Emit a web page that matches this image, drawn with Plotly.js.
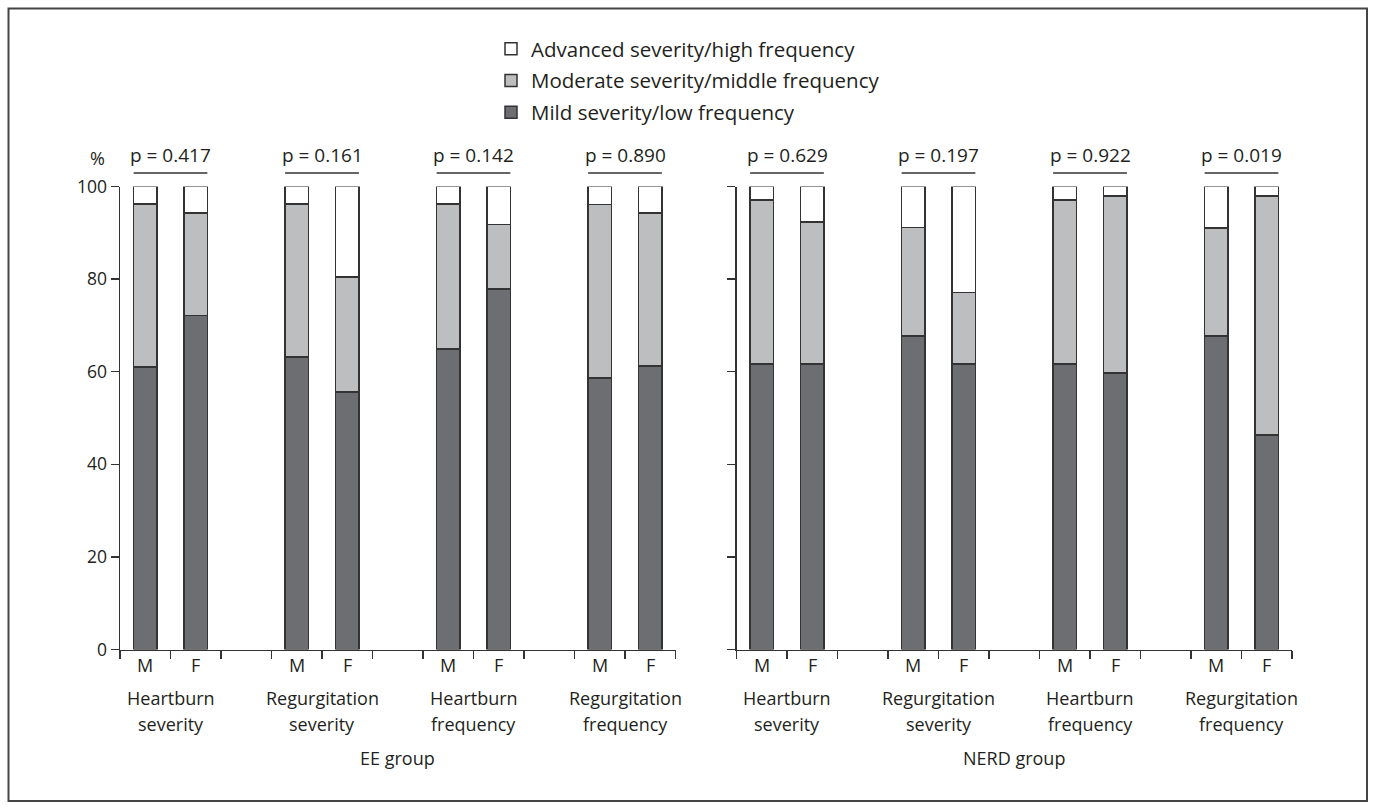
<!DOCTYPE html>
<html>
<head>
<meta charset="utf-8">
<script src="https://cdn.plot.ly/plotly-3.0.1.min.js"></script>
<style>html,body{margin:0;padding:0;background:#fff;}#chart{width:1375px;height:809px;}</style>
</head>
<body>
<div id="chart"></div>
<script>
// ---- data ----
const groupLabels = [["Heartburn","severity"],["Regurgitation","severity"],["Heartburn","frequency"],["Regurgitation","frequency"]];
const sexLabels = ["M","F"];
const panelTitles = ["EE group","NERD group"];
const seriesNames = ["Mild severity/low frequency","Moderate severity/middle frequency","Advanced severity/high frequency"];
const pEE = ["p = 0.417","p = 0.161","p = 0.142","p = 0.890"];
const pNERD = ["p = 0.629","p = 0.197","p = 0.922","p = 0.019"];
// order: HS-M, HS-F, RS-M, RS-F, HF-M, HF-F, RF-M, RF-F
const eeMild     = [61.0, 72.1, 63.2, 55.6, 64.9, 77.9, 58.6, 61.2];
const eeModerate = [35.2, 22.2, 33.0, 24.9, 31.3, 13.9, 37.5, 33.1];
const eeAdvanced = [3.8, 5.7, 3.8, 19.5, 3.8, 8.2, 3.9, 5.7];
const nerdMild     = [61.7, 61.7, 67.7, 61.7, 61.7, 59.7, 67.7, 46.3];
const nerdModerate = [35.4, 30.6, 23.4, 15.4, 35.4, 38.3, 23.3, 51.6];
const nerdAdvanced = [2.9, 7.7, 8.9, 22.9, 2.9, 2.0, 9.0, 2.1];
const yTicks = [0, 20, 40, 60, 80, 100];

// ---- layout helpers ----
const W = 1375, H = 809;
const FONT = "Open Sans, Noto Sans, sans-serif";
const TXT = "#231f20";
const colors = ["#6d6e71", "#bcbec0", "#ffffff"];
const legendKeys = ["mild","mod","adv"];
const BW = 0.46;
const NSLOT = 11;
const FS = 18;
const px = v => v / W;
const py = v => 1 - v / H;

const xPos = eeMild.map((_, i) => Math.floor(i / 2) * 3 + (i % 2) + 0.5);

const traces = [];
const panels = [[eeMild, eeModerate, eeAdvanced], [nerdMild, nerdModerate, nerdAdvanced]];
panels.forEach((series, p) => {
  series.forEach((vals, s) => {
    traces.push({
      type: "bar",
      x: xPos,
      y: vals,
      width: BW,
      name: seriesNames[s],
      legendgroup: legendKeys[s],
      legendrank: 3 - s,
      showlegend: p === 0,
      xaxis: p === 0 ? "x" : "x2",
      yaxis: p === 0 ? "y" : "y2",
      marker: {color: colors[s], line: {color: "#333333", width: 1.5}},
      hoverinfo: "y"
    });
  });
});

const annotations = [];
const shapes = [];
const tf = {size: FS, color: TXT, family: FONT};
[pEE, pNERD].forEach((pv, p) => {
  const xr = p === 0 ? "x" : "x2";
  const xd = p === 0 ? "x domain" : "x2 domain";
  groupLabels.forEach((gl, g) => {
    const c = g * 3 + 1;
    annotations.push({xref: xr, yref: "paper", x: c, y: py(155), text: pv[g], showarrow: false, font: {size: 19, color: TXT, family: FONT}, xanchor: "center", yanchor: "middle"});
    shapes.push({type: "line", xref: xd, yref: "paper", x0: (g * 3 + 0.5 - BW / 2) / NSLOT, x1: (g * 3 + 1.5 + BW / 2) / NSLOT, y0: py(173), y1: py(173), line: {color: "#333", width: 1.3}});
    sexLabels.forEach((sx, k) => {
      annotations.push({xref: xr, yref: "paper", x: g * 3 + k + 0.5, y: py(665), text: sx, showarrow: false, font: tf, xanchor: "center", yanchor: "middle"});
    });
    annotations.push({xref: xr, yref: "paper", x: c, y: py(698), text: gl[0], showarrow: false, font: tf, xanchor: "center", yanchor: "middle"});
    annotations.push({xref: xr, yref: "paper", x: c, y: py(724), text: gl[1], showarrow: false, font: tf, xanchor: "center", yanchor: "middle"});
  });
  annotations.push({xref: xr, yref: "paper", x: NSLOT / 2, y: py(758), text: panelTitles[p], showarrow: false, font: tf, xanchor: "center", yanchor: "middle"});
});
annotations.push({xref: "paper", yref: "paper", x: px(97), y: py(158), text: "%", showarrow: false, font: tf, xanchor: "center", yanchor: "middle"});

shapes.push({type: "rect", xref: "paper", yref: "paper", x0: px(8.5), x1: px(1367), y0: py(801), y1: py(8.5), line: {color: "#444", width: 2}, fillcolor: "rgba(0,0,0,0)"});

const xAx = (dom, anchor) => ({
  domain: dom, anchor: anchor, range: [0, NSLOT], tickvals: Array.from({length: NSLOT + 1}, (_, i) => i),
  ticks: "outside", ticklen: 8, tickwidth: 1.3, tickcolor: "#333", showticklabels: false,
  showline: true, linecolor: "#333", linewidth: 1.5, showgrid: false, zeroline: false, fixedrange: true
});
const yAx = (anchor, labels) => ({
  domain: [py(649.5), py(186.5)], anchor: anchor, range: [0, 100], tickvals: yTicks,
  ticks: "outside", ticklen: 8, tickwidth: 1.3, tickcolor: "#333", showticklabels: labels,
  tickfont: {size: 17.5, color: TXT, family: FONT},
  showline: true, linecolor: "#333", linewidth: 1.5, showgrid: false, zeroline: false, fixedrange: true
});

const layout = {
  width: W, height: H,
  margin: {l: 0, r: 0, t: 0, b: 0},
  paper_bgcolor: "#fff", plot_bgcolor: "rgba(0,0,0,0)",
  barmode: "stack",
  font: {family: FONT, color: TXT, size: FS},
  xaxis: xAx([px(120), px(675.5)], "y"),
  xaxis2: xAx([px(736.5), px(1292)], "y2"),
  yaxis: yAx("x", true),
  yaxis2: yAx("x2", false),
  showlegend: true,
  legend: {x: px(491), y: py(29), xanchor: "left", yanchor: "top", traceorder: "grouped", tracegroupgap: 2,
           font: {size: 20.5, color: TXT, family: FONT}, bgcolor: "rgba(0,0,0,0)"},
  annotations: annotations,
  shapes: shapes
};

Plotly.newPlot("chart", traces, layout, {staticPlot: true, displayModeBar: false});
</script>
</body>
</html>
